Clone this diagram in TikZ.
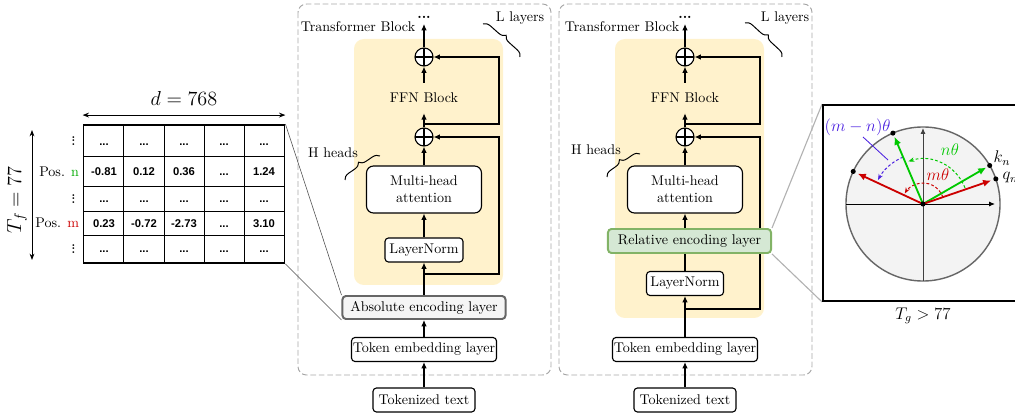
\documentclass[tikz,border=0pt]{standalone}
\usepackage{fontspec}
\newfontfamily\cellfont{Liberation Sans}
\usetikzlibrary{
  arrows.meta,
  positioning,
  calc,
  matrix,
  decorations.pathreplacing
}
\definecolor{blockyellow}{HTML}{FFF2CC}
\definecolor{relfill}{HTML}{D5E8D4}
\definecolor{reldraw}{HTML}{82B366}
\definecolor{absfill}{HTML}{F5F5F5}
\definecolor{absdraw}{HTML}{666666}
\definecolor{panelgray}{HTML}{A6A6A6}
\definecolor{posgreen}{HTML}{00AA00}
\definecolor{posred}{HTML}{CC0000}
\definecolor{vecgreen}{HTML}{00C800}
\definecolor{vecred}{HTML}{CC0000}
\definecolor{anglepurple}{HTML}{4A1FE0}
\definecolor{discgray}{HTML}{F3F3F3}
\pgfdeclarelayer{background}
\pgfdeclarelayer{edges}
\pgfsetlayers{background,edges,main}

\begin{document}
\begin{tikzpicture}[
    x=0.025cm, y=-0.025cm,
    every node/.style={font=\normalsize},
    panel/.style={draw=panelgray, line width=0.7pt, dash pattern=on 4pt off 2pt,
                  rounded corners=6pt},
    blockbg/.style={fill=blockyellow, rounded corners=7pt},
    layer/.style={rectangle, draw, fill=white, rounded corners=2.5pt,
                  line width=0.8pt, inner sep=1pt, minimum height=0.6cm},
    attn/.style={layer, rounded corners=5pt, minimum width=2.875cm,
                 minimum height=1.175cm, align=center},
    encabs/.style={layer, draw=absdraw, fill=absfill, line width=1.4pt,
                   minimum width=4.075cm, minimum height=0.575cm},
    encrel/.style={layer, draw=reldraw, fill=relfill, line width=1.4pt,
                   minimum width=4.075cm},
    addop/.style={circle, draw, fill=white, line width=0.8pt, inner sep=0pt,
                  minimum size=0.45cm,
                  path picture={\draw[line width=0.8pt]
                    (path picture bounding box.north) -- (path picture bounding box.south)
                    (path picture bounding box.west) -- (path picture bounding box.east);}},
    lab/.style={inner sep=1pt},
    rowdots/.style={rotate=90, inner sep=0pt, font=\footnotesize\bfseries},
    flow/.style={-{Latex[length=1.6mm, width=1.4mm]}, line width=0.8pt},
    bracedec/.style={decorate, decoration={brace, amplitude=5pt}, line width=0.7pt},
    zoomdark/.style={draw=black!70, line width=0.4pt},
    zoomlight/.style={draw=black!30, line width=0.8pt},
    dimline/.style={{Stealth[length=1.6mm]}-{Stealth[length=1.6mm]}, line width=0.7pt},
    ropebox/.style={draw, line width=1.3pt, minimum width=5.175cm,
                    minimum height=4.9cm, inner sep=0pt},
    disc/.style={circle, draw=black!60, fill=discgray, line width=1pt,
                 minimum size=3.85cm, inner sep=0pt},
    vec/.style={-{Latex[length=2mm, width=1.8mm]}, line width=1.3pt},
    rotarc/.style={-{Stealth[length=1.5mm]}, line width=0.7pt,
                   dash pattern=on 2pt off 1.5pt},
    anglelab/.style={inner sep=1pt, font=\large},
]
\useasboundingbox (0,0) rectangle (1015,413);
\clip (0,0) rectangle (1015,413);

% Position embedding table
\matrix (posmat) [matrix of nodes, draw, line width=1.3pt, inner sep=0pt,
    column sep=-0.7pt, row sep=-0.7pt,
    nodes={draw, line width=0.7pt, anchor=center, minimum width=1.0cm,
           inner sep=0pt, text height=1.6ex, text depth=0.3ex,
           font=\cellfont\bfseries\fontsize{8}{9}\selectfont},
    row 1/.style={nodes={minimum height=0.78cm}},
    row 2/.style={nodes={minimum height=0.755cm}},
    row 3/.style={nodes={minimum height=0.605cm}},
    row 4/.style={nodes={minimum height=0.605cm}},
    row 5/.style={nodes={minimum height=0.68cm}}] at (184,194) {
  ...   & ...   & ...   & ... & ...  \\
  -0.81 & 0.12  & 0.36  & ... & 1.24 \\
  ...   & ...   & ...   & ... & ...  \\
  0.23  & -0.72 & -2.73 & ... & 3.10 \\
  ...   & ...   & ...   & ... & ...  \\
};
\node[rowdots] (vd1) at ($(posmat-1-1.west)+(-10,0)$) {...};
\node[lab, left=2pt of posmat-2-1] (posn) {Pos. \textcolor{posgreen}{n}};
\node[rowdots] (vd2) at ($(posmat-3-1.west)+(-10,0)$) {...};
\node[lab, left=2pt of posmat-4-1] (posm) {Pos. \textcolor{posred}{m}};
\node[rowdots] (vd3) at ($(posmat-5-1.west)+(-10,0)$) {...};

\draw[dimline] ($(posmat.north west)+(0,-9)$) -- ($(posmat.north east)+(0,-9)$)
  node[midway, above=3pt, font=\Large] (dlab) {$d = 768$};
\draw[dimline] (32,130) -- (32,260);
\node[rotate=90, font=\Large] (tflab) at (17,200) {$T_f = 77$};

% Panels
\begin{pgfonlayer}{background}
  \draw[panel] (298,4) rectangle (551,375);
  \draw[panel] (559,4) rectangle (812,375);
  \fill[blockbg] (354,39) rectangle (503,285);
  \fill[blockbg] (615,39) rectangle (764,318);
\end{pgfonlayer}

% Left: absolute encoding
\node[layer, minimum width=2.55cm] (tok1) at (424,400) {Tokenized text};
\node[layer, minimum width=3.425cm] (emb1) at (424,349.5) {Token embedding layer};
\node[encabs] (abs) at (424,307.5) {Absolute encoding layer};
\node[layer, minimum width=1.95cm] (ln1) at (424,250) {LayerNorm};
\node[attn] (mha1) at (424,189.5) {Multi-head\\attention};
\node[addop] (addA1) at (424,137) {};
\node[lab, minimum height=0.75cm] (ffn1) at (424,98) {FFN Block};
\node[addop] (addB1) at (424,57) {};
\coordinate (out1) at (424,24);
\node[lab, above=3pt of out1] (more1) {\textbf{...}};
\node[lab] (tb1) at (358,27) {Transformer Block};
\node[lab] (hh1) at (333,153) {H heads};
\node[lab] (ll1) at (520,18) {L layers};
\coordinate (jA1) at (424,124);
\coordinate (jB1) at (424,274);

% Right: relative encoding
\node[layer, minimum width=2.55cm] (tok2) at (685,400) {Tokenized text};
\node[layer, minimum width=3.45cm] (emb2) at (685,349.5) {Token embedding layer};
\node[layer, minimum width=1.925cm] (ln2) at (685,283.5) {LayerNorm};
\node[encrel] (rel) at (689.5,241) {Relative encoding layer};
\node[attn] (mha2) at (685,189.5) {Multi-head\\attention};
\node[addop] (addA2) at (685,137) {};
\node[lab, minimum height=0.75cm] (ffn2) at (685,98) {FFN Block};
\node[addop] (addB2) at (685,57) {};
\coordinate (out2) at (685,24);
\node[lab, above=3pt of out2] (more2) {\textbf{...}};
\node[lab] (tb2) at (622,27) {Transformer Block};
\node[lab] (hh2) at (596,150) {H heads};
\node[lab] (ll2) at (785,18) {L layers};
\coordinate (jA2) at (685,124);
\coordinate (jB2) at (685,309);

% Braces
\draw[bracedec] (345,180) -- (380,156);
\draw[bracedec] (483,24) -- (520,57);
\draw[bracedec] (607,177) -- (640,154);
\draw[bracedec] (745,23) -- (782,57);

% Rotation diagram
\node[ropebox] (rope) at (926.5,203) {};
\node[disc] (unit) at (923,204) {};
\node[lab, font=\large] (tglab) at (923,316) {$T_g > 77$};
\begin{scope}[shift={(unit.center)}, yscale=-1]
  \draw[-{Latex[length=1.5mm, width=1.3mm]}, line width=0.7pt] (-77,0) -- (72,0);
  \draw[-{Latex[length=1.5mm, width=1.3mm]}, line width=0.7pt, black!75] (0,-77) -- (0,76);
  \draw[rotarc, vecgreen] (21:45) arc[start angle=21, end angle=109, radius=45];
  \draw[rotarc, vecred] (19:21) arc[start angle=19, end angle=150, radius=21];
  \draw[rotarc, anglepurple] (113:51) arc[start angle=113, end angle=152, radius=51];
  \draw[vec, vecred] (0,0) -- (155:72);
  \draw[vec, vecgreen] (0,0) -- (113:73);
  \draw[vec, vecgreen] (0,0) -- (30:73);
  \draw[vec, vecred] (0,0) -- (19:72);
  \foreach \a in {155,113,30,19}
    \fill (\a:77) circle[radius=1.8pt];
  \fill (0,0) circle[radius=1.8pt];
  \node[anglelab, anchor=west] (kn) at (69,46) {$k_n$};
  \node[anglelab, anchor=west] (qm) at (78,26) {$q_m$};
  \node[anglelab, text=vecgreen] (nth) at (27,54) {$n\theta$};
  \node[anglelab, text=vecred] (mth) at (15,29) {$m\theta$};
  \node[anglelab, anchor=west, text=anglepurple] (mnth) at (-100,77) {$(m-n)\theta$};
  \draw[anglepurple, line width=0.6pt] (-60,67) -- (-35,44);
\end{scope}

% Connectors
\begin{pgfonlayer}{edges}
  \draw[flow] (tok1) -- (emb1);
  \draw[flow] (emb1) -- (abs);
  \draw[flow] (abs) -- (ln1);
  \draw[flow] (ln1) -- (mha1);
  \draw[flow] (mha1) -- (addA1);
  \draw[flow] (addA1) -- (ffn1);
  \draw[flow] (ffn1) -- (addB1);
  \draw[flow] (addB1) -- (out1);
  \draw[flow] (jA1) -- ++(75,0) |- (addB1);
  \draw[flow] (jB1) -- ++(75,0) |- (addA1);

  \draw[flow] (tok2) -- (emb2);
  \draw[flow] (emb2) -- (ln2);
  \draw[flow] (ln2.north) -- (mha2.south);
  \draw[flow] (mha2) -- (addA2);
  \draw[flow] (addA2) -- (ffn2);
  \draw[flow] (ffn2) -- (addB2);
  \draw[flow] (addB2) -- (out2);
  \draw[flow] (jA2) -- ++(75,0) |- (addB2);
  \draw[flow] (jB2) -- ++(75,0) |- (addA2);

  % zoom lines
  \draw[zoomdark] (posmat.north east) -- (abs.north west);
  \draw[zoomdark] (posmat.south east) -- (abs.south west);
  \draw[zoomlight] (rel.north east) -- (rope.north west);
  \draw[zoomlight] (rel.south east) -- (rope.south west);
\end{pgfonlayer}

\end{tikzpicture}
\end{document}
